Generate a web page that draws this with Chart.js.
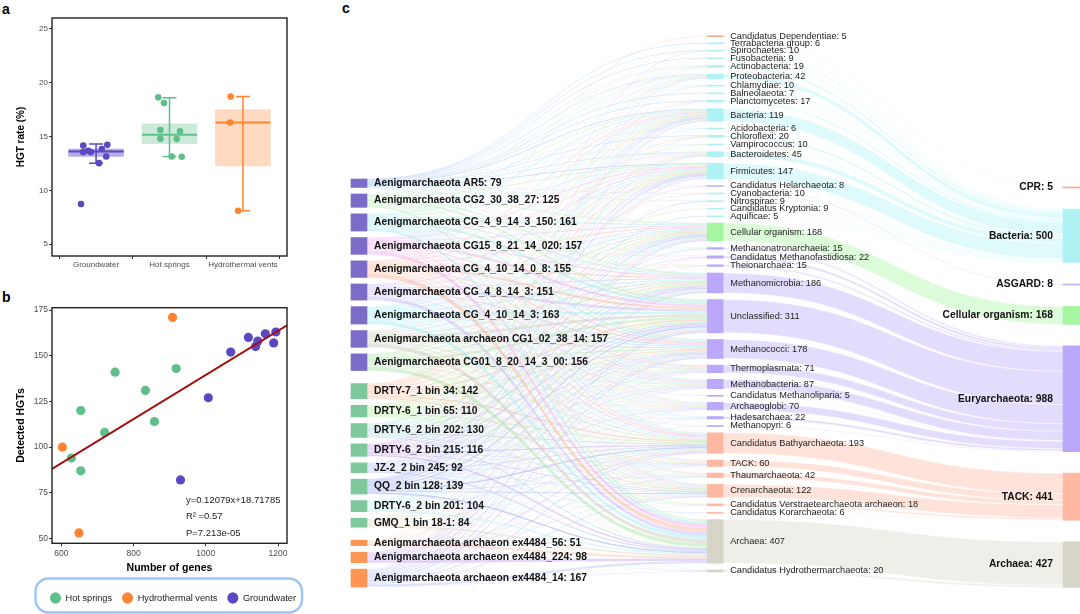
<!DOCTYPE html>
<html><head><meta charset="utf-8">
<script src="https://cdn.jsdelivr.net/npm/chart.js@4/dist/chart.umd.min.js"></script>
<style>
body{margin:0;background:#fff;width:1080px;height:614px;overflow:hidden;position:relative;font-family:'Liberation Sans',Arial,sans-serif}
canvas{position:absolute}
.pl{position:absolute;font-weight:bold;font-size:14px;color:#000;line-height:1}
</style></head><body>
<div class="pl" style="left:2px;top:2px">a</div>
<div class="pl" style="left:2px;top:290px">b</div>
<div class="pl" style="left:342px;top:1px">c</div>
<canvas id="ca" width="330" height="285" style="left:0;top:0"></canvas>
<canvas id="cb" width="330" height="329" style="left:0;top:285px"></canvas>
<canvas id="cc" width="740" height="614" style="left:340px;top:0"></canvas>
<script>
// ---------------- DATA ----------------
// panel a
const envNames = ['Groundwater', 'Hot springs', 'Hydrothermal vents'];
const boxQ1 = [13.14, 14.32, 12.27];
const boxMedian = [13.6, 15.16, 16.3];
const boxQ3 = [13.83, 16.18, 17.5];
const whiskerLow = [12.52, 13.14, 8.1];
const whiskerHigh = [14.29, 18.6, 18.7];
const yTicksA = [5, 10, 15, 20, 25];
const gwRate = [14.16, 13.55, 13.67, 13.55, 13.83, 13.14, 14.22, 12.52, 8.73];
const gwJitter = [-0.174, -0.174, -0.106, -0.073, 0.078, 0.138, 0.153, 0.04, -0.205];
const hsRate = [18.63, 18.1, 15.6, 15.47, 14.79, 14.76, 13.14, 13.11];
const hsJitter = [-0.153, -0.075, -0.125, 0.143, -0.125, 0.098, 0.03, 0.166];
const hvRate = [18.7, 16.3, 8.1];
const hvJitter = [-0.167, -0.176, -0.067];

// panel b
const hsGenes = [749, 654, 628, 654, 720, 833, 858, 918];
const hsHGT = [141, 120, 94, 87, 108, 131, 114, 143];
const hvGenes = [908, 603, 649];
const hvHGT = [171, 100, 53];
const gwGenes = [1007, 930, 1069, 1118, 1138, 1144, 1165, 1188, 1194];
const gwHGT = [127, 82, 152, 160, 155, 158, 162, 157, 163];
const fitSlope = 0.12079, fitIntercept = 18.71785;
const fitTexts = ['y=0.12079x+18.71785', 'R\u00B2 =0.57', 'P=7.213e-05'];
const xTicksB = [600, 800, 1000, 1200];
const yTicksB = [50, 75, 100, 125, 150, 175];

// panel c (sankey)
const leftNames = ['Aenigmarchaeota AR5', 'Aenigmarchaeota CG2_30_38_27', 'Aenigmarchaeota CG_4_9_14_3_150',
  'Aenigmarchaeota CG15_8_21_14_020', 'Aenigmarchaeota CG_4_10_14_0_8', 'Aenigmarchaeota CG_4_8_14_3',
  'Aenigmarchaeota CG_4_10_14_3', 'Aenigmarchaeota archaeon CG1_02_38_14', 'Aenigmarchaeota CG01_8_20_14_3_00',
  'DRTY-7_1 bin 34', 'DRTY-6_1 bin 65', 'DRTY-6_2 bin 202', 'DRTY-6_2 bin 215', 'JZ-2_2 bin 245', 'QQ_2 bin 128',
  'DRTY-6_2 bin 201', 'GMQ_1 bin 18-1', 'Aenigmarchaeota archaeon ex4484_56', 'Aenigmarchaeota archaeon ex4484_224',
  'Aenigmarchaeota archaeon ex4484_14'];
const leftValues = [79, 125, 161, 157, 155, 151, 163, 157, 156, 142, 110, 130, 116, 92, 139, 104, 84, 51, 98, 167];
const leftEnv = [0,0,0,0,0,0,0,0,0, 1,1,1,1,1,1,1,1, 2,2,2];

const midNames = ['Candidatus Dependentiae', 'Terrabacteria group', 'Spirochaetes', 'Fusobacteria', 'Actinobacteria',
  'Proteobacteria', 'Chlamydiae', 'Balneolaeota', 'Planctomycetes', 'Bacteria', 'Acidobacteria', 'Chloroflexi',
  'Vampirococcus', 'Bacteroidetes', 'Firmicutes', 'Candidatus Helarchaeota', 'Cyanobacteria', 'Nitrospirae',
  'Candidatus Kryptonia', 'Aquificae', 'Cellular organism', 'Methanonatronarchaeia', 'Candidatus Methanofastidiosa',
  'Theionarchaea', 'Methanomicrobia', 'Unclassified', 'Methanococci', 'Thermoplasmata', 'Methanobacteria',
  'Candidatus Methanoliparia', 'Archaeoglobi', 'Hadesarchaea', 'Methanopyri', 'Candidatus Bathyarchaeota', 'TACK',
  'Thaumarchaeota', 'Crenarchaeota', 'Candidatus Verstraetearchaeota archaeon', 'Candidatus Korarchaeota', 'Archaea',
  'Candidatus Hydrothermarchaeota'];
const midValues = [5, 6, 10, 9, 19, 42, 10, 7, 17, 119, 6, 20, 10, 45, 147, 8, 10, 9, 9, 5, 168, 15, 22, 15, 186, 311,
  178, 71, 87, 5, 70, 22, 6, 193, 60, 42, 122, 18, 6, 407, 20];
const midGroup = [0, 1,1,1,1,1,1,1,1,1,1,1,1,1,1, 2, 1,1,1,1, 3, 4,4,4,4,4,4,4,4,4,4,4,4, 5,5,5,5,5,5, 6,6];

const rightNames = ['CPR', 'Bacteria', 'ASGARD', 'Cellular organism', 'Euryarchaeota', 'TACK', 'Archaea'];
const rightValues = [5, 500, 8, 168, 988, 441, 427];

// estimated flows genome -> taxon: for every middle node, [genome index, HGT count]
const midSources = [
  [[4,5]],
  [[0,3],[10,3]],
  [[0,4],[2,3],[12,3]],
  [[0,3],[9,3],[19,3]],
  [[0,4],[1,3],[5,3],[9,3],[11,3],[19,3]],
  [[0,5],[1,4],[2,4],[3,3],[6,4],[8,3],[9,4],[10,3],[11,3],[14,3],[18,3],[19,3]],
  [[0,4],[13,3],[19,3]],
  [[0,4],[15,3]],
  [[0,4],[7,3],[9,4],[14,3],[19,3]],
  [[0,8],[1,7],[2,8],[3,6],[4,6],[5,7],[6,7],[7,6],[8,6],[9,7],[10,6],[11,7],[12,6],[13,5],[14,6],[15,5],[16,4],[17,2],[18,3],[19,7]],
  [[0,3],[11,3]],
  [[0,4],[6,3],[9,4],[10,3],[14,3],[19,3]],
  [[0,3],[8,4],[16,3]],
  [[0,5],[1,4],[2,4],[3,3],[5,3],[7,3],[9,4],[10,4],[11,3],[12,3],[14,3],[15,3],[19,3]],
  [[0,8],[1,8],[2,9],[3,8],[4,8],[5,8],[6,9],[7,8],[8,8],[9,9],[10,8],[11,9],[12,8],[13,6],[14,9],[15,7],[16,5],[17,3],[18,4],[19,5]],
  [[3,4],[12,4]],
  [[0,3],[9,4],[19,3]],
  [[0,3],[11,3],[14,3]],
  [[9,3],[10,3],[15,3]],
  [[13,5]],
  [[0,2],[1,10],[2,11],[3,9],[4,9],[5,9],[6,11],[7,9],[8,9],[9,10],[10,9],[11,9],[12,8],[13,7],[14,9],[15,8],[16,7],[17,4],[18,7],[19,11]],
  [[2,4],[6,4],[14,4],[19,3]],
  [[1,4],[3,4],[7,4],[11,4],[12,3],[18,3]],
  [[4,4],[8,4],[9,4],[19,3]],
  [[0,2],[1,11],[2,12],[3,12],[4,11],[5,11],[6,12],[7,12],[8,12],[9,10],[10,9],[11,10],[12,9],[13,7],[14,10],[15,8],[16,6],[17,4],[18,7],[19,11]],
  [[0,3],[1,19],[2,24],[3,23],[4,22],[5,22],[6,24],[7,23],[8,23],[9,15],[10,12],[11,14],[12,12],[13,10],[14,15],[15,11],[16,9],[17,6],[18,10],[19,14]],
  [[0,2],[1,10],[2,13],[3,12],[4,12],[5,12],[6,13],[7,12],[8,12],[9,9],[10,7],[11,8],[12,7],[13,6],[14,8],[15,6],[16,5],[17,3],[18,6],[19,15]],
  [[1,4],[2,5],[3,5],[4,5],[5,5],[6,5],[7,5],[8,5],[9,4],[10,3],[11,4],[12,3],[13,3],[14,4],[15,3],[16,2],[18,3],[19,3]],
  [[1,6],[2,7],[3,6],[4,6],[5,6],[6,7],[7,6],[8,6],[9,5],[10,4],[11,4],[12,4],[13,3],[14,4],[15,3],[16,3],[18,3],[19,4]],
  [[5,5]],
  [[1,4],[2,5],[3,5],[4,5],[5,4],[6,5],[7,5],[8,5],[9,4],[10,3],[11,4],[12,3],[13,3],[14,4],[15,3],[16,2],[18,3],[19,3]],
  [[2,4],[6,4],[9,4],[11,3],[14,4],[19,3]],
  [[7,3],[19,3]],
  [[0,2],[1,7],[2,9],[3,9],[4,9],[5,9],[6,10],[7,10],[8,10],[9,13],[10,12],[11,12],[12,12],[13,10],[14,13],[15,11],[16,10],[17,5],[18,9],[19,11]],
  [[1,3],[2,3],[3,3],[4,3],[5,3],[6,3],[7,3],[8,3],[9,4],[10,4],[11,4],[12,4],[13,3],[14,4],[15,3],[16,3],[18,3],[19,4]],
  [[2,3],[3,3],[4,3],[6,3],[7,3],[9,4],[10,3],[11,3],[12,3],[14,4],[15,3],[18,3],[19,4]],
  [[1,5],[2,6],[3,6],[4,6],[5,6],[6,6],[7,6],[8,6],[9,8],[10,7],[11,8],[12,7],[13,6],[14,8],[15,7],[16,6],[17,3],[18,5],[19,10]],
  [[8,4],[10,4],[12,3],[15,4],[19,3]],
  [[13,3],[18,3]],
  [[1,16],[2,23],[3,36],[4,41],[5,34],[6,33],[7,36],[8,36],[9,3],[10,3],[11,12],[12,14],[13,12],[14,14],[15,13],[16,15],[17,21],[18,23],[19,22]],
  [[2,4],[5,4],[14,4],[16,4],[19,4]]
];

// ---------------- STYLE ----------------
const FONT = "'Liberation Sans', Arial, Helvetica, sans-serif";
const envColors = ['#5b47c2', '#5fbf8b', '#ff8432'];
const boxFill = ['rgba(91,71,194,0.45)', 'rgba(95,191,139,0.32)', 'rgba(255,132,50,0.3)'];
const envNodeColors = ['#7d6bc8', '#7fc89e', '#ff9555'];
const rightColors = ['#f9a98c', '#aef2f4', '#c2b5fa', '#a6f5a0', '#bba8fb', '#ffb9a3', '#d7d5c8'];
const srcLinkColors = ['#6fa8f5','#b4eab0','#9fe6ee','#f0a8ee','#f8b294','#c3b3f7','#98eef4','#c9c5b6','#a6e3a0',
  '#f8ae8c','#a8f08a','#9fd3d6','#bf8ff0','#a7b6f8','#8798f0','#aef0f8','#d8cfb4','#f3c5a4','#c69ef7','#b5bff7'];

Chart.defaults.font.family = FONT;
Chart.defaults.animation = false;
Chart.defaults.responsive = false;
Chart.defaults.events = [];
Chart.defaults.plugins.tooltip.enabled = false;

function hexA(hex, a) {
  const n = parseInt(hex.slice(1), 16);
  return `rgba(${n >> 16},${(n >> 8) & 255},${n & 255},${a})`;
}
const framePlugin = {
  id: 'frame',
  afterDraw(c) {
    const a = c.chartArea, ctx = c.ctx;
    ctx.save(); ctx.strokeStyle = '#222'; ctx.lineWidth = 1.4;
    ctx.strokeRect(a.left, a.top, a.right - a.left, a.bottom - a.top);
    ctx.restore();
  }
};
const tickStyle = (size, pad) => ({ font: { size }, color: '#4d4d4d', padding: pad, maxRotation: 0, autoSkip: false,
  callback: v => String(v) });
const gridStyle = { drawOnChartArea: false, drawTicks: true, tickLength: 3, color: '#333' };

// ---------------- PANEL A ----------------
const BOX_W = 55, CAP_HALF = 7;
const boxPlugin = {
  id: 'boxlines',
  afterDatasetDraw(c, args) {
    if (args.index !== 0) return;
    const ctx = c.ctx, xs = c.scales.x, ys = c.scales.y;
    ctx.save();
    envNames.forEach((n, i) => {
      const cx = xs.getPixelForValue(i + 1);
      ctx.strokeStyle = envColors[i];
      ctx.lineWidth = 2;
      const ym = ys.getPixelForValue(boxMedian[i]);
      ctx.beginPath(); ctx.moveTo(cx - BOX_W / 2, ym); ctx.lineTo(cx + BOX_W / 2, ym); ctx.stroke();
      ctx.lineWidth = 1.5;
      const y1 = ys.getPixelForValue(whiskerLow[i]), y2 = ys.getPixelForValue(whiskerHigh[i]);
      ctx.beginPath();
      ctx.moveTo(cx, y1); ctx.lineTo(cx, y2);
      ctx.moveTo(cx - CAP_HALF, y1); ctx.lineTo(cx + CAP_HALF, y1);
      ctx.moveTo(cx - CAP_HALF, y2); ctx.lineTo(cx + CAP_HALF, y2);
      ctx.stroke();
    });
    ctx.restore();
  }
};
const ptsA = (rates, jit, cat) => rates.map((v, i) => ({ x: cat + jit[i], y: v }));
new Chart(document.getElementById('ca'), {
  type: 'scatter',
  data: {
    datasets: [
      { type: 'bar', label: 'box', data: envNames.map((n, i) => ({ x: i + 1, y: [boxQ1[i], boxQ3[i]] })),
        backgroundColor: boxFill, borderWidth: 0, barThickness: BOX_W, order: 3 },
      { label: envNames[0], data: ptsA(gwRate, gwJitter, 1), backgroundColor: envColors[0], pointRadius: 3.3, pointBorderWidth: 0, order: 1 },
      { label: envNames[1], data: ptsA(hsRate, hsJitter, 2), backgroundColor: envColors[1], pointRadius: 3.3, pointBorderWidth: 0, order: 1 },
      { label: envNames[2], data: ptsA(hvRate, hvJitter, 3), backgroundColor: envColors[2], pointRadius: 3.3, pointBorderWidth: 0, order: 1 }
    ]
  },
  options: {
    layout: { padding: { left: 0, right: 43, top: 18, bottom: 0 } },
    plugins: { legend: { display: false } },
    scales: {
      x: { type: 'linear', min: 0.4, max: 3.6, offset: false,
        afterFit: s => { s.height = 29; },
        afterBuildTicks: s => { s.ticks = [1, 2, 3].map(v => ({ value: v })); },
        ticks: Object.assign(tickStyle(8, 1), { callback: v => envNames[v - 1] }),
        grid: gridStyle, border: { display: false } },
      y: { type: 'linear', min: 3.9, max: 26,
        afterFit: s => { s.width = 52; },
        afterBuildTicks: s => { s.ticks = yTicksA.map(v => ({ value: v })); },
        ticks: tickStyle(8, 1),
        title: { display: true, text: 'HGT rate (%)', color: '#000', font: { size: 10, weight: 'bold' }, padding: { top: 15.7, bottom: 0 } },
        grid: gridStyle, border: { display: false } }
    }
  },
  plugins: [boxPlugin, framePlugin]
});

// ---------------- PANEL B ----------------
const X_MIN_B = 574.3, X_MAX_B = 1224.9;
const ANN_X = 945, ANN_Y = [71, 62.2, 53];
const annPlugin = {
  id: 'ann',
  afterDatasetsDraw(c) {
    const ctx = c.ctx, xs = c.scales.x, ys = c.scales.y;
    ctx.save(); ctx.font = '9.5px ' + FONT; ctx.fillStyle = '#222'; ctx.textBaseline = 'middle'; ctx.textAlign = 'left';
    fitTexts.forEach((t, i) => ctx.fillText(t, xs.getPixelForValue(ANN_X), ys.getPixelForValue(ANN_Y[i])));
    ctx.restore();
  }
};
const LEGEND_CENTER = 173;
const legendBoxPlugin = {
  id: 'legendBox',
  afterLayout(c) {
    const lg = c.legend; const dx = LEGEND_CENTER - (lg.left + lg.right) / 2;
    lg.left += dx; lg.right += dx;
  },
  afterDraw(c) {
    const lg = c.legend, ctx = c.ctx, pad = lg.options.labels.padding;
    const w = lg.lineWidths[0];
    const start = (lg.left + pad + lg.right - w) / 2, end = start + w - pad;
    const cy = lg.top + pad + 9.2 / 2;
    const x0 = start - 14.5, x1 = end + 6, y0 = cy - 19.5, y1 = Math.min(cy + 14.5, c.height - 1.5);
    const r = 13;
    ctx.save(); ctx.strokeStyle = '#9cc4f6'; ctx.lineWidth = 2.4;
    ctx.beginPath(); ctx.roundRect(x0, y0, x1 - x0, y1 - y0, r); ctx.stroke(); ctx.restore();
  }
};
const ptsB = (xs, ys) => xs.map((v, i) => ({ x: v, y: ys[i] }));
new Chart(document.getElementById('cb'), {
  type: 'scatter',
  data: {
    datasets: [
      { type: 'line', label: 'fit', data: [X_MIN_B, X_MAX_B].map(x => ({ x, y: fitSlope * x + fitIntercept })),
        borderColor: '#a30f0f', borderWidth: 2, pointRadius: 0, order: 0 },
      { label: 'Hot springs', data: ptsB(hsGenes, hsHGT), backgroundColor: envColors[1], borderColor: envColors[1], pointRadius: 4.6, pointBorderWidth: 0, order: 1 },
      { label: 'Hydrothermal vents', data: ptsB(hvGenes, hvHGT), backgroundColor: envColors[2], borderColor: envColors[2], pointRadius: 4.6, pointBorderWidth: 0, order: 1 },
      { label: 'Groundwater', data: ptsB(gwGenes, gwHGT), backgroundColor: envColors[0], borderColor: envColors[0], pointRadius: 4.6, pointBorderWidth: 0, order: 1 }
    ]
  },
  options: {
    layout: { padding: { left: 0, right: 43, top: 22.7, bottom: 1.4 } },
    plugins: {
      legend: { position: 'bottom',
        labels: { usePointStyle: true, pointStyle: 'circle', boxHeight: 8, boxWidth: 11, pointStyleWidth: 11, padding: 10,
          font: { size: 9.2 }, color: '#1a1a1a', filter: it => it.text !== 'fit' } }
    },
    scales: {
      x: { type: 'linear', min: X_MIN_B, max: X_MAX_B,
        afterFit: s => { s.height = 40.1; },
        afterBuildTicks: s => { s.ticks = xTicksB.map(v => ({ value: v })); },
        ticks: tickStyle(8.5, 2),
        title: { display: true, text: 'Number of genes', color: '#000', font: { size: 10.5, weight: 'bold' }, padding: { top: 0, bottom: 9.4 } },
        grid: gridStyle, border: { display: false } },
      y: { type: 'linear', min: 47.3, max: 176.3,
        afterFit: s => { s.width = 52; },
        afterBuildTicks: s => { s.ticks = yTicksB.map(v => ({ value: v })); },
        ticks: tickStyle(8.5, 1),
        title: { display: true, text: 'Detected HGTs', color: '#000', font: { size: 10.5, weight: 'bold' }, padding: { top: 14.7, bottom: 0 } },
        grid: gridStyle, border: { display: false } }
    }
  },
  plugins: [annPlugin, framePlugin, legendBoxPlugin]
});

// ---------------- PANEL C (sankey) ----------------
const K = 0.107;              // pixels per HGT
const CANVAS_H = 614;
const THICK = [16, 16, 17];
function layoutColumn(values, groups, topPx, bottomPx, groupGapFactor) {
  const total = values.reduce((a, b) => a + b, 0);
  let nW = 0, nB = 0;
  for (let i = 1; i < values.length; i++) {
    if (groups && groups[i] !== groups[i - 1]) nB++; else nW++;
  }
  const span = (bottomPx - topPx) / K;
  const gap = (span - total) / (nW + groupGapFactor * nB);
  let y = topPx / K; const out = [];
  values.forEach((v, i) => {
    if (i > 0) y += (groups && groups[i] !== groups[i - 1]) ? gap * groupGapFactor : gap;
    out.push([y, y + v]); y += v;
  });
  return out;
}
const leftNodes = layoutColumn(leftValues, leftEnv, 179, 587, 2);
const midNodes = layoutColumn(midValues, null, 35.7, 572, 1);
const rightNodes = layoutColumn(rightValues, null, 187, 587.5, 1);
const ctr = n => (n[0] + n[1]) / 2;

// links left -> middle
const links1 = [];
midSources.forEach((list, m) => list.forEach(([s, v]) => links1.push({ s, m, v })));
leftValues.forEach((val, s) => {
  let y = leftNodes[s][0];
  links1.filter(l => l.s === s).sort((a, b) => ctr(midNodes[a.m]) - ctr(midNodes[b.m]))
    .forEach(l => { l.sy0 = y; y += l.v; l.sy1 = y; });
});
midValues.forEach((val, m) => {
  let y = midNodes[m][0];
  links1.filter(l => l.m === m).sort((a, b) => ctr(leftNodes[a.s]) - ctr(leftNodes[b.s]))
    .forEach(l => { l.ty0 = y; y += l.v; l.ty1 = y; });
});
// links middle -> right
const links2 = [];
rightValues.forEach((val, r) => {
  let y = rightNodes[r][0];
  midValues.forEach((v, m) => {
    if (midGroup[m] !== r) return;
    links2.push({ m, r, v, sy0: midNodes[m][0], sy1: midNodes[m][1], ty0: y, ty1: y + v }); y += v;
  });
});

function band(ctx, x0, x1, a0, a1, b0, b1) {
  const xm = (x0 + x1) / 2;
  ctx.beginPath();
  ctx.moveTo(x0, a0);
  ctx.bezierCurveTo(xm, a0, xm, b0, x1, b0);
  ctx.lineTo(x1, b1);
  ctx.bezierCurveTo(xm, b1, xm, a1, x0, a1);
  ctx.closePath();
}
const linkPlugin = {
  id: 'links',
  beforeDatasetsDraw(c) {
    const ctx = c.ctx, xs = c.scales.x, ys = c.scales.y;
    const xL = xs.getPixelForValue(0) + THICK[0] / 2;
    const xM0 = xs.getPixelForValue(1) - THICK[1] / 2, xM1 = xs.getPixelForValue(1) + THICK[1] / 2;
    const xR = xs.getPixelForValue(2) - THICK[2] / 2;
    const py = v => ys.getPixelForValue(v);
    ctx.save();
    links2.forEach(l => {
      band(ctx, xM1, xR, py(l.sy0), py(l.sy1), py(l.ty0), py(l.ty1));
      ctx.fillStyle = hexA(rightColors[l.r], 0.4); ctx.fill();
      ctx.strokeStyle = 'rgba(255,255,255,0.85)'; ctx.lineWidth = 0.6; ctx.stroke();
    });
    links1.forEach(l => {
      band(ctx, xL, xM0, py(l.sy0), py(l.sy1), py(l.ty0), py(l.ty1));
      ctx.fillStyle = hexA(srcLinkColors[l.s], 0.45); ctx.fill();
      ctx.strokeStyle = 'rgba(255,255,255,0.35)'; ctx.lineWidth = 0.3; ctx.stroke();
    });
    ctx.restore();
  }
};
const labelPlugin = {
  id: 'nodeLabels',
  afterDatasetsDraw(c) {
    const ctx = c.ctx, xs = c.scales.x, ys = c.scales.y;
    ctx.save(); ctx.textBaseline = 'middle';
    ctx.font = 'bold 10.3px ' + FONT; ctx.fillStyle = '#111'; ctx.textAlign = 'left';
    const xl = xs.getPixelForValue(0) + THICK[0] / 2 + 7;
    leftNodes.forEach((n, i) => ctx.fillText(leftNames[i] + ': ' + leftValues[i], xl, ys.getPixelForValue(ctr(n))));
    ctx.font = '9.2px ' + FONT; ctx.fillStyle = '#222';
    const xm = xs.getPixelForValue(1) + THICK[1] / 2 + 7;
    midNodes.forEach((n, i) => ctx.fillText(midNames[i] + ': ' + midValues[i], xm, ys.getPixelForValue(ctr(n))));
    ctx.font = 'bold 10.3px ' + FONT; ctx.fillStyle = '#111'; ctx.textAlign = 'right';
    const xr = xs.getPixelForValue(2) - THICK[2] / 2 - 10;
    rightNodes.forEach((n, i) => ctx.fillText(rightNames[i] + ': ' + rightValues[i], xr, ys.getPixelForValue(ctr(n))));
    ctx.restore();
  }
};
new Chart(document.getElementById('cc'), {
  type: 'bar',
  data: {
    datasets: [
      { label: 'genomes', stack: 'nodes', data: leftNodes.map(n => ({ x: 0, y: n })),
        backgroundColor: leftEnv.map(e => envNodeColors[e]), barThickness: THICK[0] },
      { label: 'taxa', stack: 'nodes', data: midNodes.map(n => ({ x: 1, y: n })),
        backgroundColor: midGroup.map(g => rightColors[g]), barThickness: THICK[1] },
      { label: 'domains', stack: 'nodes', data: rightNodes.map(n => ({ x: 2, y: n })),
        backgroundColor: rightColors, barThickness: THICK[2] }
    ]
  },
  options: {
    layout: { padding: 0 },
    plugins: { legend: { display: false } },
    datasets: { bar: { borderWidth: 0, minBarLength: 1 } },
    scales: {
      x: { type: 'linear', display: false, min: -0.0533, max: 2.0239, offset: false },
      y: { type: 'linear', display: false, min: 0, max: CANVAS_H / K, reverse: true, stacked: false }
    }
  },
  plugins: [linkPlugin, labelPlugin]
});
</script>
</body></html>
